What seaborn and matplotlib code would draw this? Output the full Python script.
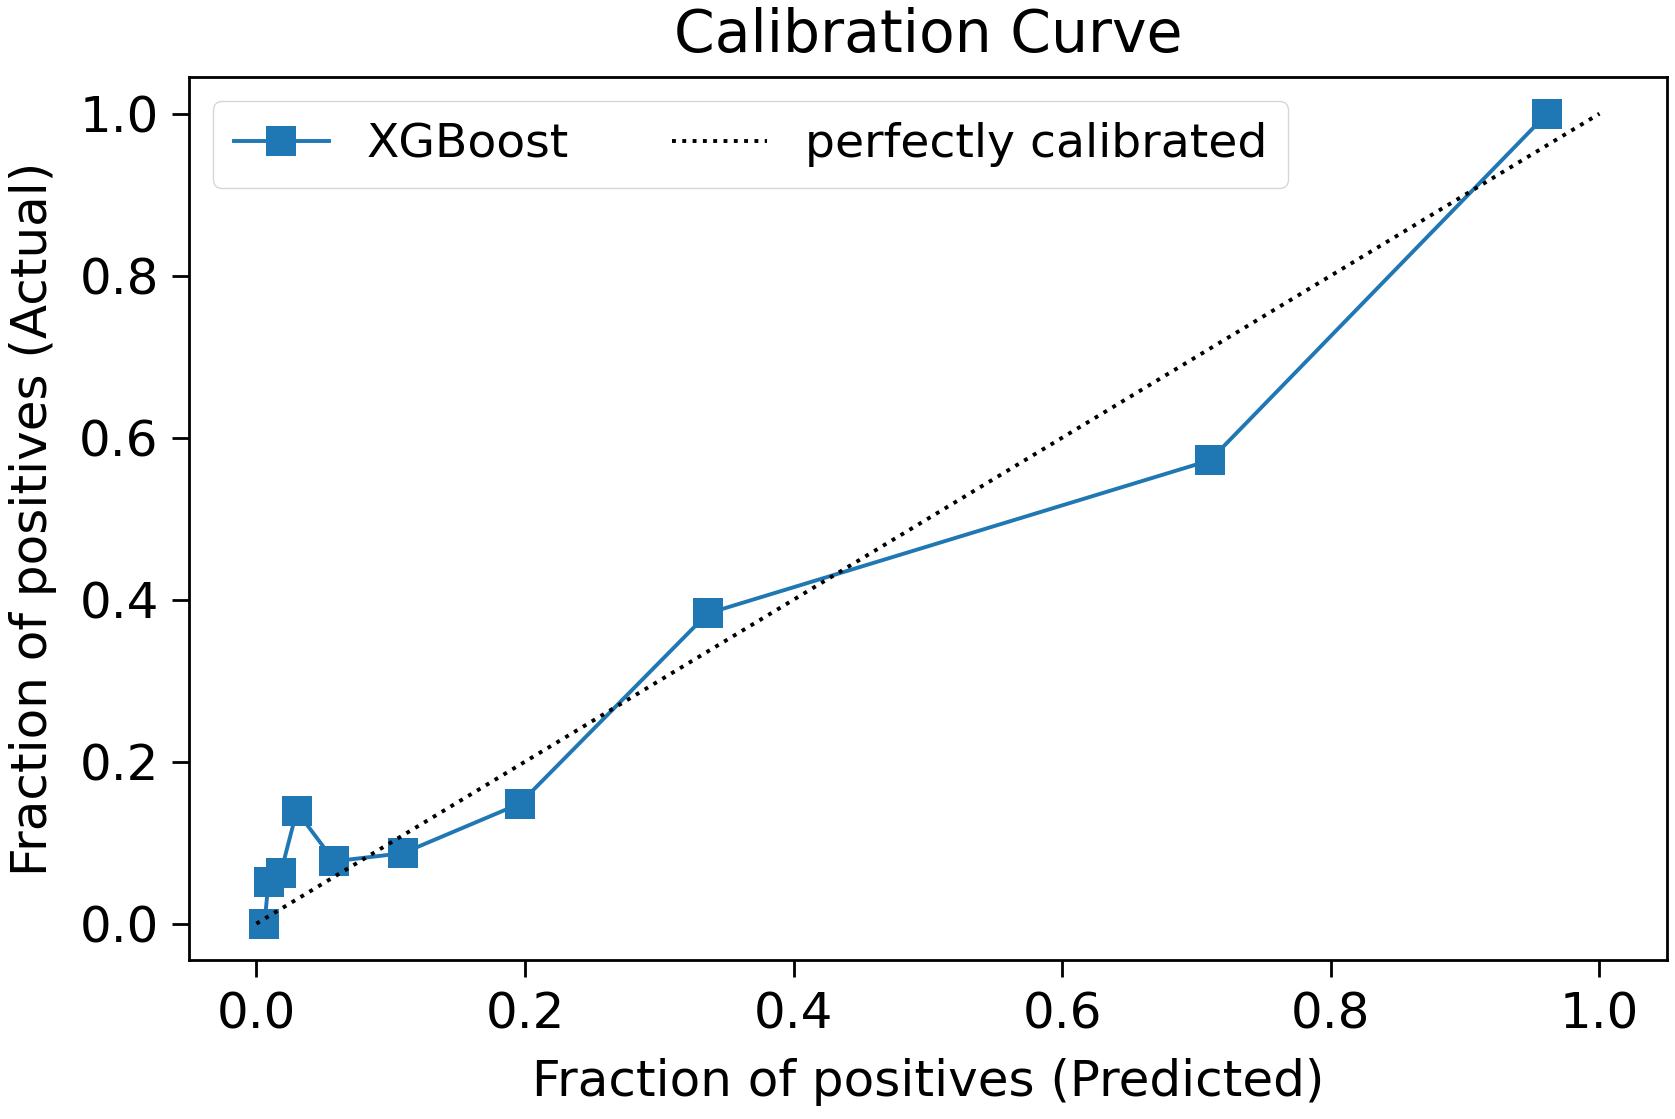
import matplotlib
matplotlib.use("Agg")
import matplotlib.pyplot as plt
import seaborn as sns
import pandas as pd

pred = [0.006, 0.009, 0.018, 0.030, 0.058, 0.109, 0.196, 0.336, 0.710, 0.961]
actual = [0.0, 0.052, 0.062, 0.139, 0.077, 0.087, 0.148, 0.383, 0.572, 1.0]
diag = [0.0, 1.0]

plt.rcParams['font.family'] = ['DejaVu Sans']
fig = plt.figure(figsize=(16.75, 11.19), dpi=100)
ax = fig.add_axes([0.113, 0.142, 0.882, 0.789])

df = pd.DataFrame({"x": pred, "y": actual})
sns.lineplot(data=df, x="x", y="y", ax=ax, marker="s", markersize=21, color="#1f77b4",
             linewidth=2.8, markeredgewidth=0, label="XGBoost", sort=False)
sns.lineplot(x=diag, y=diag, ax=ax, color="black", linestyle=":", linewidth=2.8,
             label="perfectly calibrated")

ax.set_xlim(-0.05, 1.05)
ax.set_ylim(-0.045, 1.045)
ax.set_xticks([0.0, 0.2, 0.4, 0.6, 0.8, 1.0])
ax.set_yticks([0.0, 0.2, 0.4, 0.6, 0.8, 1.0])
ax.tick_params(labelsize=36, length=12, width=2, pad=10)
for s in ax.spines.values():
    s.set_linewidth(2)
ax.set_xlabel("Fraction of positives (Predicted)", fontsize=36, labelpad=14)
ax.set_ylabel("Fraction of positives (Actual)", fontsize=36, labelpad=16)
ax.set_title("Calibration Curve", fontsize=42, pad=18)
leg = ax.legend(loc="upper left", ncol=2, fontsize=34, handlelength=2.0, columnspacing=2.2,
                borderpad=0.45, framealpha=0.8)
ax.grid(False)
fig.savefig("out.png", dpi=100)
